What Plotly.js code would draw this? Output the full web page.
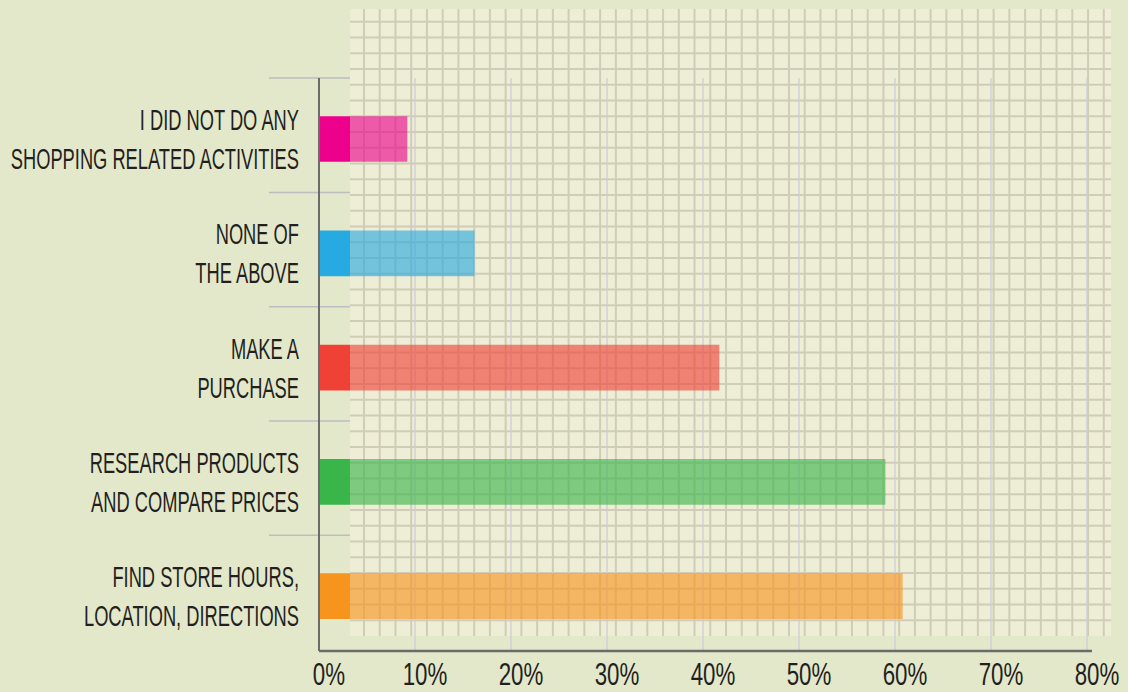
<!DOCTYPE html>
<html>
<head>
<meta charset="utf-8">
<script src="https://cdn.plot.ly/plotly-3.0.1.min.js"></script>
<style>
  html, body { margin: 0; padding: 0; background: #e3e8ca; }
  #chart { width: 1128px; height: 692px; }
</style>
</head>
<body>
<div id="chart"></div>
<script>
// ---- data ----
const categories = [
  "I DID NOT DO ANY<br>SHOPPING RELATED ACTIVITIES",
  "NONE OF<br>THE ABOVE",
  "MAKE A<br>PURCHASE",
  "RESEARCH PRODUCTS<br>AND COMPARE PRICES",
  "FIND STORE HOURS,<br>LOCATION, DIRECTIONS"
];
const values = [9.2, 16.2, 41.7, 59.0, 60.8];
const barColors = ["#ec008c", "#27aae1", "#ef4136", "#39b54a", "#f7941d"];
const tickValues = [0, 10, 20, 30, 40, 50, 60, 70, 80];
const tickLabels = ["0%", "10%", "20%", "30%", "40%", "50%", "60%", "70%", "80%"];

// ---- layout geometry ----
const ML = 319, MR = 17, MT = 9, MB = 41;
const W = 1128, H = 692;
const plotW = W - ML - MR, plotH = H - MT - MB;
const xRange = [0, 82.5];
const yRange = [4.481, -1.138];
const blockEnd = 3.23;       // solid colour block width (style)
const pxPerX = plotW / (xRange[1] - xRange[0]);
const xFromPx = px => (px - ML) / pxPerX;
const yPaperFromPx = py => (H - MB - py) / plotH;
const yPaperFromData = v => (yRange[0] - v) / (yRange[0] - yRange[1]);

const font = "Liberation Sans, Arial, sans-serif";
const textColor = "#231f20";

const shapes = [];
const creamBottom = yPaperFromPx(636);
// cream grid paper
shapes.push({type: "rect", layer: "below", xref: "x", yref: "paper",
  x0: blockEnd, x1: xRange[1], y0: creamBottom, y1: 1,
  fillcolor: "#eeedd5", line: {width: 0}});
// small grid: vertical
for (let k = 0; k <= 47; k++) {
  const x = xFromPx(364 + 15.74 * k);
  shapes.push({type: "line", layer: "below", xref: "x", yref: "paper",
    x0: x, x1: x, y0: creamBottom, y1: 1, line: {color: "#d0ccb8", width: 2}});
}
// small grid: horizontal
for (let k = 0; k <= 38; k++) {
  const y = yPaperFromPx(21.7 + 15.75 * k);
  shapes.push({type: "line", layer: "below", xref: "x", yref: "paper",
    x0: blockEnd, x1: xRange[1], y0: y, y1: y, line: {color: "#d0ccb8", width: 2}});
}
// major thin lines at each tick
const majorTop = yPaperFromData(-0.533);
tickValues.slice(1).forEach(t => {
  shapes.push({type: "line", layer: "below", xref: "x", yref: "paper",
    x0: t, x1: t, y0: 0, y1: majorTop, line: {color: "#d0cdd6", width: 1.3}});
});
// category separators on the left
for (let i = 0; i < categories.length; i++) {
  const y = yPaperFromData(i - 0.533);
  shapes.push({type: "line", layer: "above", xref: "paper", yref: "paper",
    x0: (269 - ML) / plotW, x1: (350 - ML) / plotW, y0: y, y1: y,
    line: {color: "#bdbdc2", width: 1.5}});
}
// axis lines
shapes.push({type: "line", layer: "above", xref: "paper", yref: "paper",
  x0: 0, x1: 0, y0: 0, y1: majorTop, line: {color: "#6b6b6b", width: 2}});
shapes.push({type: "line", layer: "above", xref: "paper", yref: "paper",
  x0: 0, x1: (1092 - ML) / plotW, y0: 0, y1: 0, line: {color: "#6b6b6b", width: 2.5}});

const traces = [
  {
    type: "bar", orientation: "h", y: categories,
    x: categories.map(() => blockEnd),
    marker: {color: barColors, line: {width: 0}},
    width: 0.4, hoverinfo: "skip", showlegend: false
  },
  {
    type: "bar", orientation: "h", y: categories,
    base: blockEnd,
    x: values.map(v => v - blockEnd),
    marker: {color: barColors, opacity: 0.62, line: {width: 0}},
    width: 0.4, showlegend: false,
    customdata: values,
    hovertemplate: "%{y}: %{customdata}%<extra></extra>"
  }
];

const layout = {
  width: W, height: H,
  margin: {l: ML, r: MR, t: MT, b: MB, pad: 0},
  paper_bgcolor: "#e3e8ca",
  plot_bgcolor: "rgba(0,0,0,0)",
  barmode: "overlay",
  showlegend: false,
  font: {family: font, color: textColor},
  xaxis: {
    range: xRange, showgrid: false, zeroline: false, showline: false,
    tickvals: tickValues, ticktext: tickLabels, ticks: "",
    tickfont: {family: font, size: 31, color: textColor},
    ticklabelshift: 10, ticklabelstandoff: 2, ticklabeloverflow: "allow",
    fixedrange: true
  },
  yaxis: {
    type: "category", categoryarray: categories, range: yRange,
    showgrid: false, zeroline: false, showline: false, ticks: "",
    tickfont: {family: font, size: 30, color: textColor},
    ticklabelstandoff: 19, ticklabeloverflow: "allow", fixedrange: true
  },
  shapes: shapes
};

// condense the sans-serif labels horizontally to mimic the condensed face
function condense(selector, sx) {
  document.querySelectorAll(selector).forEach(t => {
    const x = parseFloat(t.getAttribute("x")) || 0;
    const tr = t.getAttribute("transform") || "";
    t.setAttribute("transform",
      tr + " translate(" + x + ",0) scale(" + sx + ",1) translate(" + (-x) + ",0)");
  });
}

Plotly.newPlot("chart", traces, layout, {displayModeBar: false, staticPlot: true})
  .then(() => {
    condense(".ytick text", 0.61);
    condense(".xtick text", 0.72);
  });
</script>
</body>
</html>
